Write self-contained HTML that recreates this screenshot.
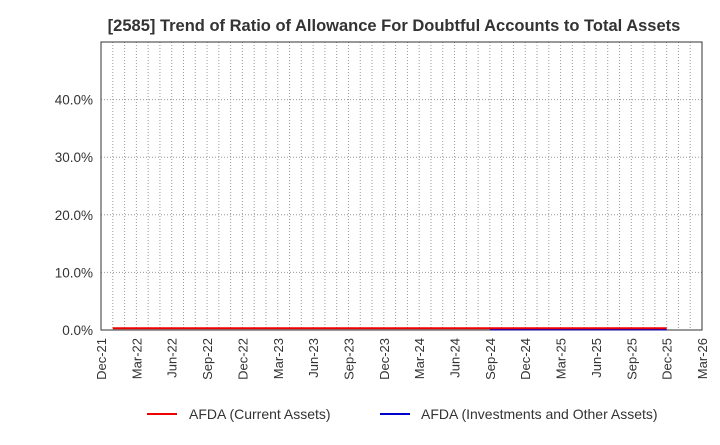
<!DOCTYPE html>
<html><head><meta charset="utf-8"><style>
body{margin:0;background:#fff;font-family:"Liberation Sans",Arial,sans-serif}
svg text{font-family:"Liberation Sans",Arial,sans-serif}
</style></head><body>
<svg id="c" width="720" height="440">
<text x="394" y="31" font-size="16.5" font-weight="bold" text-anchor="middle" fill="#333">[2585]  Trend of Ratio of Allowance For Doubtful Accounts to Total Assets</text>
<g id="grid"></g><g id="axes"></g><g id="series"></g>
<g>
<line x1="147" y1="414" x2="177" y2="414" stroke="#e00" stroke-width="2"/>
<text x="189" y="419" font-size="14" fill="#333">AFDA (Current Assets)</text>
<line x1="380" y1="414" x2="410" y2="414" stroke="#00c" stroke-width="2"/>
<text x="421" y="419" font-size="14" fill="#333">AFDA (Investments and Other Assets)</text>
</g>
</svg>
<script>
const xLabels=["Dec-21","Mar-22","Jun-22","Sep-22","Dec-22","Mar-23","Jun-23","Sep-23","Dec-23","Mar-24","Jun-24","Sep-24","Dec-24","Mar-25","Jun-25","Sep-25","Dec-25","Mar-26"];
const yTicks=[0,10,20,30,40];
const redMonths=[1,3,6,9,12,15,18,21,24,27,30,33,36,39,42,45,48];
const redValues=[0.3,0.3,0.3,0.3,0.3,0.3,0.3,0.3,0.3,0.3,0.3,0.3,0.3,0.3,0.3,0.3,0.3];
const blueMonths=[33,36,39,42,45,48];
const blueValues=[0.1,0.1,0.1,0.1,0.1,0.1];
const L=101,R=702,T=42,B=330,NM=51,YMAX=50;
const xs=m=>L+(R-L)*m/NM, ys=v=>B-(B-T)*v/YMAX;
const ns="http://www.w3.org/2000/svg";
function mk(p,t,a){const e=document.createElementNS(ns,t);for(const k in a)e.setAttribute(k,a[k]);p.appendChild(e);return e;}
const g=document.getElementById('grid'),ax=document.getElementById('axes'),s=document.getElementById('series');
for(let m=1;m<NM;m++){const l=mk(g,'line',{x1:xs(m),x2:xs(m),y1:T,y2:B,stroke:'#999','stroke-dasharray':'1,2','stroke-width':1});

}
yTicks.forEach(v=>{if(v>0){const l=mk(g,'line',{x1:L,x2:R,y1:ys(v),y2:ys(v),stroke:'#999','stroke-dasharray':'1,2'});

}
const t=mk(ax,'text',{x:L-8,y:ys(v)+5,'font-size':13.5,'text-anchor':'end',fill:'#333'});t.textContent=v.toFixed(1)+'%';

});
xLabels.forEach((lb,i)=>{const x=xs(i*3);const t=mk(ax,'text',{x:0,y:0,'font-size':13,'text-anchor':'end',fill:'#333',transform:`translate(${x+5},${B+8}) rotate(-90)`});t.textContent=lb;

});
const fr=mk(ax,'rect',{x:L,y:T,width:R-L,height:B-T,fill:'none',stroke:'#333'});


function line(ms,vs,c,n){const p=mk(s,'polyline',{points:ms.map((m,i)=>xs(m)+','+ys(vs[i])).join(' '),fill:'none',stroke:c,'stroke-width':2});

}
line(blueMonths,blueValues,'#00c','series-investments');
line(redMonths,redValues,'#e00','series-current-assets');
</script>
</body></html>
